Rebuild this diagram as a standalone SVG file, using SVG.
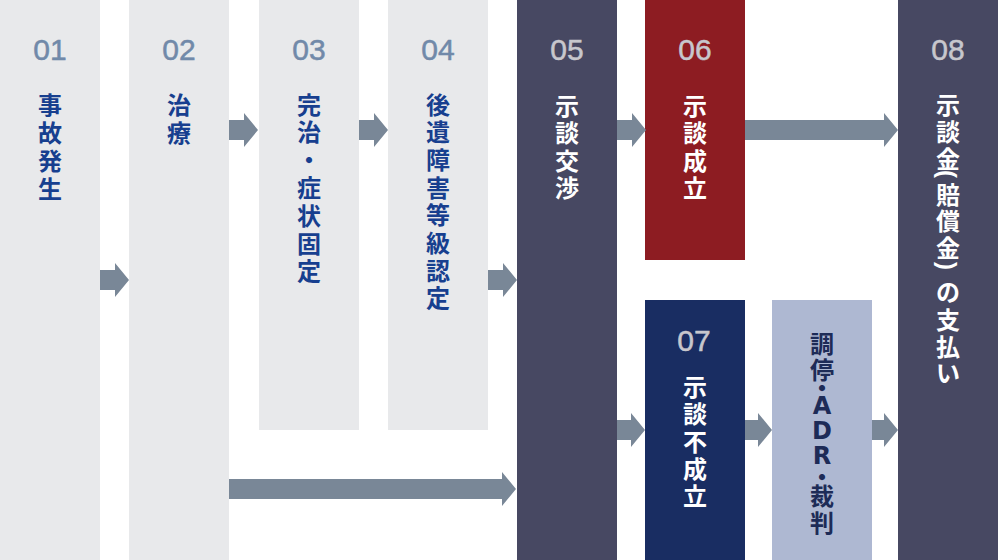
<svg xmlns="http://www.w3.org/2000/svg" width="998" height="560" viewBox="0 0 998 560">
<style>
.light{fill:#e8e9eb}
.dark{fill:#474862}
.red{fill:#8d1c22}
.navy{fill:#192d62}
.lav{fill:#aeb8d2}
.num{font-family:"Liberation Sans","Noto Sans",sans-serif;font-size:30px;text-anchor:middle;stroke-width:0.5px}
.numL{fill:#7189a9;stroke:#7189a9}
.numD{fill:#c7c7cd;stroke:#c7c7cd}
.jp{font-family:"Noto Sans CJK JP","Noto Sans CJK SC",sans-serif;font-size:24px;font-weight:700;text-anchor:middle;dominant-baseline:central}
.blue{fill:#173f8f}
.white{fill:#ffffff}
.ink{fill:#1d2b57}
.lat{font-family:"DejaVu Sans","Liberation Sans",sans-serif;font-size:24px;font-weight:700;text-anchor:middle;fill:#1d2b57}
.par{font-family:"Liberation Sans",sans-serif;font-size:24px;font-weight:700;text-anchor:middle;dominant-baseline:central;fill:#ffffff}
.arrow{fill:#798797}
</style>
<g id="node-01">
<rect class="light" x="0" y="0" width="100" height="560"/>
<text class="num numL" x="50" y="60">01</text>
<text class="jp blue"><tspan x="50" y="102.5">事</tspan><tspan x="50" y="130.5">故</tspan><tspan x="50" y="158.5">発</tspan><tspan x="50" y="186.5">生</tspan></text>
</g>
<g id="node-02">
<rect class="light" x="129" y="0" width="100" height="560"/>
<text class="num numL" x="179" y="60">02</text>
<text class="jp blue"><tspan x="179" y="102.5">治</tspan><tspan x="179" y="130.5">療</tspan></text>
</g>
<g id="node-03">
<rect class="light" x="259" y="0" width="100" height="430"/>
<text class="num numL" x="309" y="60">03</text>
<text class="jp blue"><tspan x="309" y="102.5">完</tspan><tspan x="309" y="130.3">治</tspan><tspan x="309" y="158.1">・</tspan><tspan x="309" y="185.9">症</tspan><tspan x="309" y="213.7">状</tspan><tspan x="309" y="241.5">固</tspan><tspan x="309" y="269.3">定</tspan></text>
</g>
<g id="node-04">
<rect class="light" x="388" y="0" width="100" height="430"/>
<text class="num numL" x="438" y="60">04</text>
<text class="jp blue"><tspan x="438" y="102.5">後</tspan><tspan x="438" y="130.2">遺</tspan><tspan x="438" y="157.9">障</tspan><tspan x="438" y="185.6">害</tspan><tspan x="438" y="213.3">等</tspan><tspan x="438" y="241">級</tspan><tspan x="438" y="268.7">認</tspan><tspan x="438" y="296.4">定</tspan></text>
</g>
<g id="node-05">
<rect class="dark" x="517" y="0" width="100" height="560"/>
<text class="num numD" x="567" y="60">05</text>
<text class="jp white"><tspan x="567" y="103.5">示</tspan><tspan x="567" y="131">談</tspan><tspan x="567" y="158.5">交</tspan><tspan x="567" y="186">渉</tspan></text>
</g>
<g id="node-06">
<rect class="red" x="645" y="0" width="100" height="260"/>
<text class="num numD" x="695" y="60">06</text>
<text class="jp white"><tspan x="695" y="103.5">示</tspan><tspan x="695" y="131">談</tspan><tspan x="695" y="158.5">成</tspan><tspan x="695" y="186">立</tspan></text>
</g>
<g id="node-07">
<rect class="navy" x="645" y="300" width="100" height="260"/>
<text class="num numD" x="694" y="351">07</text>
<text class="jp white"><tspan x="695" y="385">示</tspan><tspan x="695" y="412">談</tspan><tspan x="695" y="439.5">不</tspan><tspan x="695" y="466.5">成</tspan><tspan x="695" y="493.5">立</tspan></text>
</g>
<g id="node-adr">
<rect class="lav" x="772" y="300" width="100" height="260"/>
<text class="jp ink"><tspan x="822" y="342">調</tspan><tspan x="822" y="368">停</tspan><tspan x="822" y="386">・</tspan></text>
<text class="lat"><tspan x="822" y="413.5">A</tspan><tspan x="822" y="438.5">D</tspan><tspan x="822" y="463.5">R</tspan></text>
<text class="jp ink"><tspan x="822" y="475">・</tspan><tspan x="822" y="493.5">裁</tspan><tspan x="822" y="520.5">判</tspan></text>
</g>
<g id="node-08">
<rect class="dark" x="898" y="0" width="100" height="560"/>
<text class="num numD" x="948" y="60">08</text>
<text class="jp white"><tspan x="948" y="103">示</tspan><tspan x="948" y="130">談</tspan><tspan x="948" y="156.5">金</tspan><tspan x="948" y="192.5">賠</tspan><tspan x="948" y="219">償</tspan><tspan x="948" y="246">金</tspan><tspan x="948" y="290">の</tspan><tspan x="948" y="317.5">支</tspan><tspan x="948" y="344.5">払</tspan><tspan x="948" y="371">い</tspan></text>
<text class="par" transform="translate(947 174) rotate(90)">(</text>
<text class="par" transform="translate(947 266) rotate(90)">)</text>
</g>
<g id="connectors">
<path class="arrow" d="M100 270H115V263L129 280L115 297V290H100Z"/>
<path class="arrow" d="M229 120H244V113L258 130L244 147V140H229Z"/>
<path class="arrow" d="M359 120H374V113L388 130L374 147V140H359Z"/>
<path class="arrow" d="M488 270H503V263L517 280L503 297V290H488Z"/>
<path class="arrow" d="M617 120H632V113L646 130L632 147V140H617Z"/>
<path class="arrow" d="M745 120H884V113L898 130L884 147V140H745Z"/>
<path class="arrow" d="M617 420H631V413L645 430L631 447V440H617Z"/>
<path class="arrow" d="M745 420H758V413L772 430L758 447V440H745Z"/>
<path class="arrow" d="M872 420H884V413L898 430L884 447V440H872Z"/>
<path class="arrow" d="M229 479H502V472L516 489L502 506V499H229Z"/>
</g>
</svg>
